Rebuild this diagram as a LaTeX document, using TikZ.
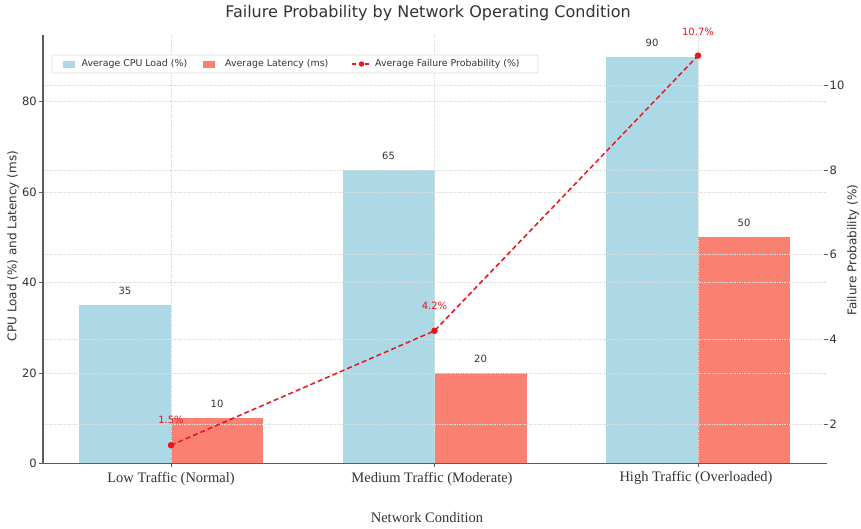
\documentclass[tikz,border=0pt]{standalone}
\usepackage{fontspec}
\setmainfont{Liberation Serif}
\newfontfamily\dvs{DejaVu Sans}
\definecolor{cpu}{HTML}{ADD8E6}
\definecolor{lat}{HTML}{FA8072}
\definecolor{txt}{HTML}{333333}
\definecolor{gridc}{HTML}{DCDCDC}
\definecolor{fpline}{HTML}{E8141E}
\tikzset{
  gridline/.style={gridc, line width=0.6pt, dash pattern=on 1.5pt off 1pt},
  spine/.style={draw=txt!80, line width=1.1pt},
  tickl/.style={txt, font=\dvs\fontsize{11.5}{12}\selectfont, anchor=east, inner sep=0pt},
  tickr/.style={txt, font=\dvs\fontsize{11.5}{12}\selectfont, anchor=west, inner sep=0pt},
  barlab/.style={txt, font=\dvs\fontsize{10}{12}\selectfont, inner sep=0pt},
  fplab/.style={fpline, font=\dvs\fontsize{10}{12}\selectfont, inner sep=0pt},
  leglab/.style={txt, font=\dvs\fontsize{9.4}{11}\selectfont, anchor=west, inner sep=0pt},
  xlab/.style={txt, font=\fontsize{14.5}{16}\selectfont, inner sep=0pt},
  ylab/.style={txt, font=\dvs\fontsize{12}{14}\selectfont, rotate=90, inner sep=0pt},
  fpdot/.style={circle, fill=fpline, inner sep=0pt, minimum size=6.5pt},
  fpdash/.style={fpline, line width=1.5pt, dash pattern=on 5pt off 3pt},
}
\begin{document}
\begin{tikzpicture}[x=1pt, y=-1pt]
\useasboundingbox (0,0) rectangle (861,528);
\fill[white] (0,0) rectangle (861,528);
% bars
\fill[cpu] (79,463.3) rectangle (171,305.1);
\fill[lat] (171,463.3) rectangle (263,418.1);
\fill[cpu] (342.5,463.3) rectangle (434.5,169.5);
\fill[lat] (434.5,463.3) rectangle (526.5,372.9);
\fill[cpu] (606,463.3) rectangle (698,56.5);
\fill[lat] (698,463.3) rectangle (790,237.3);
% grid
\foreach \yy in {372.9,282.5,192.1,101.7,424.0,339.3,254.6,169.9,85.2}
  \draw[gridline] (44,\yy) -- (826,\yy);
\foreach \xx in {171,434.5,698}
  \draw[gridline] (\xx,35) -- (\xx,463);
% spines and ticks
\draw[spine] (43,35) -- (43,463.8);
\draw[spine] (42.5,463.3) -- (827,463.3);
\foreach \yy in {463.3,372.9,282.5,192.1,101.7}
  \draw[txt!80, line width=0.8pt] (39,\yy) -- (43,\yy);
\foreach \yy in {424.0,339.3,254.6,169.9,85.2}
  \draw[txt!80, line width=0.8pt] (823.5,\yy) -- (827.5,\yy);
\foreach \xx in {171,434.5,698}
  \draw[txt!80, line width=0.8pt] (\xx,463.3) -- (\xx,466.5);
% left tick labels
\node[tickl] (l0) at (37,463.3) {0};
\node[tickl] (l20) at (37,372.9) {20};
\node[tickl] (l40) at (37,282.5) {40};
\node[tickl] (l60) at (37,192.1) {60};
\node[tickl] (l80) at (37,101.7) {80};
% right tick labels
\node[tickr] (r2) at (829.5,424.0) {2};
\node[tickr] (r4) at (829.5,339.3) {4};
\node[tickr] (r6) at (829.5,254.6) {6};
\node[tickr] (r8) at (829.5,169.9) {8};
\node[tickr] (r10) at (829.5,85.2) {10};
% bar labels
\node[barlab] (b1) at (125,291) {35};
\node[barlab] (b2) at (217,404) {10};
\node[barlab] (b3) at (388.5,155.5) {65};
\node[barlab] (b4) at (480.5,358.5) {20};
\node[barlab] (b5) at (652,42.5) {90};
\node[barlab] (b6) at (744,223) {50};
% failure probability line
\node[fpdot] (p1) at (171,445.2) {};
\node[fpdot] (p2) at (434.5,330.8) {};
\node[fpdot] (p3) at (698,55.6) {};
\draw[fpdash] (p1.center) -- (p2.center) -- (p3.center);
\node[fplab] (f1) at (171,420) {1.5\%};
\node[fplab] (f2) at (434.5,306) {4.2\%};
\node[fplab] (f3) at (698,31.5) {10.7\%};
% legend
\node[draw=gridc, fill=white, rounded corners=2pt, line width=0.6pt, minimum width=486pt, minimum height=18pt, inner sep=0pt] (leg) at (295,64) {};
\fill[cpu] (63,60.5) rectangle (75,67.5);
\node[leglab] (lg1) at (81.5,64) {Average CPU Load (\%)};
\fill[lat] (203,60.5) rectangle (215,67.5);
\node[leglab] (lg2) at (225,64) {Average Latency (ms)};
\coordinate (la) at (352,64);
\coordinate (lb) at (371,64);
\draw[fpdash, line width=1.3pt, dash pattern=on 4pt off 2.5pt] (la) -- (lb);
\node[fpdot, minimum size=5.5pt] (lgdot) at (361.5,64) {};
\node[leglab] (lg3) at (375,64) {Average Failure Probability (\%)};
% axis labels and title
\node[xlab] (x1) at (171,479) {Low Traffic (Normal)};
\node[xlab] (x2) at (432,479) {Medium Traffic (Moderate)};
\node[xlab] (x3) at (696,478) {High Traffic (Overloaded)};
\node[xlab] (xt) at (427,518) {Network Condition};
\node[ylab] (yl) at (13,246) {CPU Load (\%) and Latency (ms)};
\node[ylab] (yr) at (853,250) {Failure Probability (\%)};
\node[txt, font=\dvs\fontsize{16}{18}\selectfont, inner sep=0pt] (title) at (428,13) {Failure Probability by Network Operating Condition};
\end{tikzpicture}
\end{document}
